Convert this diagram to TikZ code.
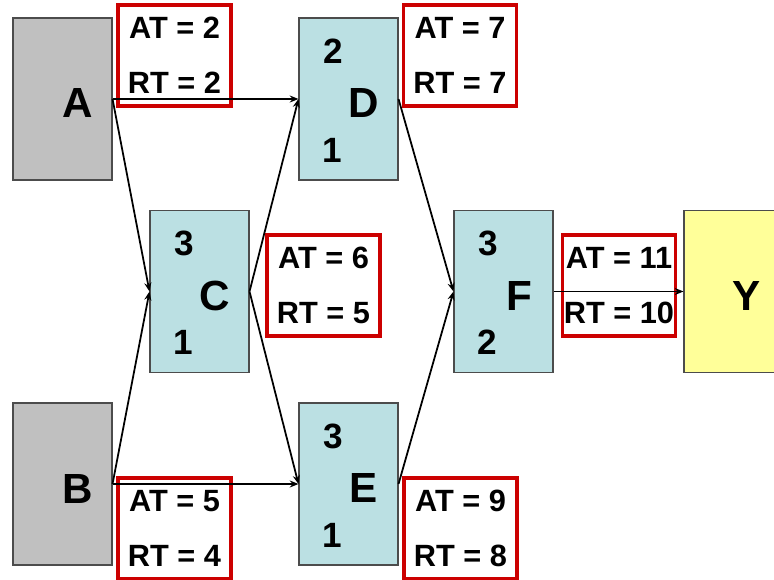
\documentclass[tikz,border=0pt]{standalone}
\usepackage{fontspec}
\setmainfont{Liberation Sans}
\usetikzlibrary{arrows.meta, positioning}

\definecolor{startgray}{HTML}{C0C0C0}
\definecolor{taskblue}{HTML}{BBE0E3}
\definecolor{endyellow}{HTML}{FFFF99}
\definecolor{timered}{HTML}{CC0000}

\begin{document}
\begin{tikzpicture}[
  x=0.02cm, y=-0.02cm,
  block/.style={draw=black!70, line width=0.6pt, minimum width=1.98cm, minimum height=3.24cm, inner sep=0pt},
  task/.style={block, fill=taskblue},
  timebox/.style={draw=timered, line width=1.9pt, minimum width=2.26cm, minimum height=2.02cm,
    inner sep=0pt, align=center, font=\fontsize{17.5}{31}\selectfont\bfseries},
  letter/.style={font=\fontsize{24}{28}\selectfont\bfseries, inner sep=0pt},
  weight/.style={font=\fontsize{20}{24}\selectfont\bfseries, inner sep=0pt},
  arrow/.style={-{Stealth[length=5pt, width=4pt]}, line width=1pt}
]
\useasboundingbox (0,0) rectangle (774,580);

% start, end and task blocks
\node[block, fill=startgray] (A) at (62.5,99) {};
\node[block, fill=startgray] (B) at (62.5,484) {};
\node[task] (C) at (199.5,291.5) {};
\node[task] (D) at (348.5,99) {};
\node[task] (E) at (348.5,484) {};
\node[task] (F) at (503.5,291.5) {};
\node[block, fill=endyellow] (Y) at (733.5,291.5) {};

\node[letter] at ([shift={(15.5,4)}]A.center) {A};
\node[letter] at ([shift={(15.5,5)}]B.center) {B};
\node[letter] at ([shift={(13.5,4.5)}]Y.center) {Y};

% task name with the two numbers
\foreach \n/\t/\b in {C/3/1, D/2/1, E/3/1, F/3/2} {
  \node[letter] at ([shift={(15.5,4)}]\n.center) {\n};
  \node[weight] at ([shift={(-15.5,-48)}]\n.center) {\t};
  \node[weight] at ([shift={(-16,51)}]\n.center) {\b};
}

% arrival / required times
\node[timebox] (tA) at (174.5,55.5) {AT = 2\\RT = 2};
\node[timebox] (tB) at (174.5,528.5) {AT = 5\\RT = 4};
\node[timebox] (tC) at (323.5,285.5) {AT = 6\\RT = 5};
\node[timebox] (tD) at (460,55.5) {AT = 7\\RT = 7};
\node[timebox] (tE) at (460.5,528.5) {AT = 9\\RT = 8};
\node[timebox] (tF) at (619,285.5) {AT = 11\\RT = 10};

\draw[arrow] (A.east) -- (D.west);
\draw[arrow] (A.east) -- (C.west);
\draw[arrow] (B.east) -- (C.west);
\draw[arrow] (B.east) -- (E.west);
\draw[arrow] (C.east) -- (D.west);
\draw[arrow] (C.east) -- (E.west);
\draw[arrow] (D.east) -- (F.west);
\draw[arrow] (E.east) -- (F.west);
\draw[arrow] (F.east) -- (Y.west);

\end{tikzpicture}
\end{document}
